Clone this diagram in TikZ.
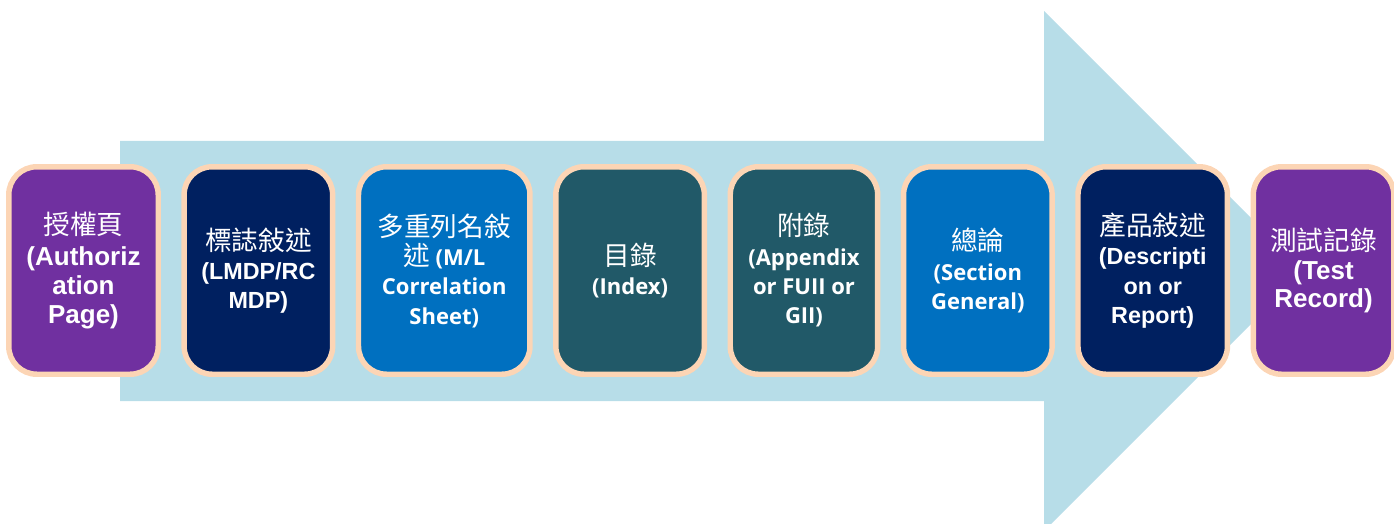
\documentclass[tikz,border=0pt]{standalone}
\usepackage{fontspec}
\newfontfamily\cjkfont{Noto Sans CJK TC}
\newfontfamily\arialfont{Liberation Sans}
\newfontfamily\openfont{Open Sans}
\usetikzlibrary{positioning}

\definecolor{arrowblue}{RGB}{183,221,232}
\definecolor{peach}{RGB}{252,213,181}
\definecolor{boxpurple}{RGB}{112,48,160}
\definecolor{boxnavy}{RGB}{0,32,96}
\definecolor{boxblue}{RGB}{0,112,192}
\definecolor{boxteal}{RGB}{33,89,104}

\newcommand{\zh}[1]{{\cjkfont\mdseries\fontsize{20}{22}\selectfont #1}}

\tikzset{every picture/.style={line width=0.75pt}}
\tikzset{
	stage/.style={draw=peach, line width=4.1pt, rounded corners=21pt, minimum height=155.6pt, inner sep=0pt, text=white, align=center},
	arialtext/.style={font=\arialfont\bfseries\fontsize{19.5}{21.5}\selectfont},
	smallarial/.style={font=\arialfont\bfseries\fontsize{17.5}{22}\selectfont},
	opentext/.style={font=\openfont\bfseries\fontsize{16.5}{22}\selectfont},
}

\begin{document}
\begin{tikzpicture}[x=0.75pt,y=0.75pt,yscale=-1,xscale=1, node distance=15.3pt]
	\useasboundingbox (0,0) rectangle (1394,524);
	\clip (0,0) rectangle (1394,524);

	%Shape: Right Arrow
	\fill [arrowblue] (120,141) -- (1044,141) -- (1044,11) -- (1304,271) -- (1044,531) -- (1044,401) -- (120,401) -- cycle ;

	% Stage boxes
	\node [stage, arialtext, fill=boxpurple, minimum width=112.1pt] (auth) at (83.5,270.5) {\zh{授權頁}\\[2pt](Authoriz\\ation\\Page)};
	\node [stage, smallarial, fill=boxnavy, minimum width=111.4pt, right=of auth] (mark) {\zh{標誌敍述}\\(LMDP/RC\\MDP)};
	\node [stage, opentext, fill=boxblue, minimum width=128.6pt, right=of mark] (corr) {\zh{多重列名敍}\\\zh{述} (M/L\\Correlation\\Sheet)};
	\node [stage, opentext, fill=boxteal, minimum width=111.4pt, right=of corr] (index) {\zh{目錄}\\(Index)};
	\node [stage, opentext, fill=boxteal, minimum width=110.6pt, right=of index] (appx) {\zh{附錄}\\(Appendix\\or FUII or\\GII)};
	\node [stage, opentext, fill=boxblue, minimum width=111.4pt, right=of appx] (gen) {\zh{總論}\\(Section\\General)};
	\node [stage, smallarial, fill=boxnavy, minimum width=112.1pt, right=of gen] (desc) {\zh{產品敍述}\\(Descripti\\on or\\Report)};
	\node [stage, arialtext, fill=boxpurple, minimum width=105.4pt, right=of desc] (test) {\zh{測試記錄}\\(Test\\Record)};

\end{tikzpicture}
\end{document}
